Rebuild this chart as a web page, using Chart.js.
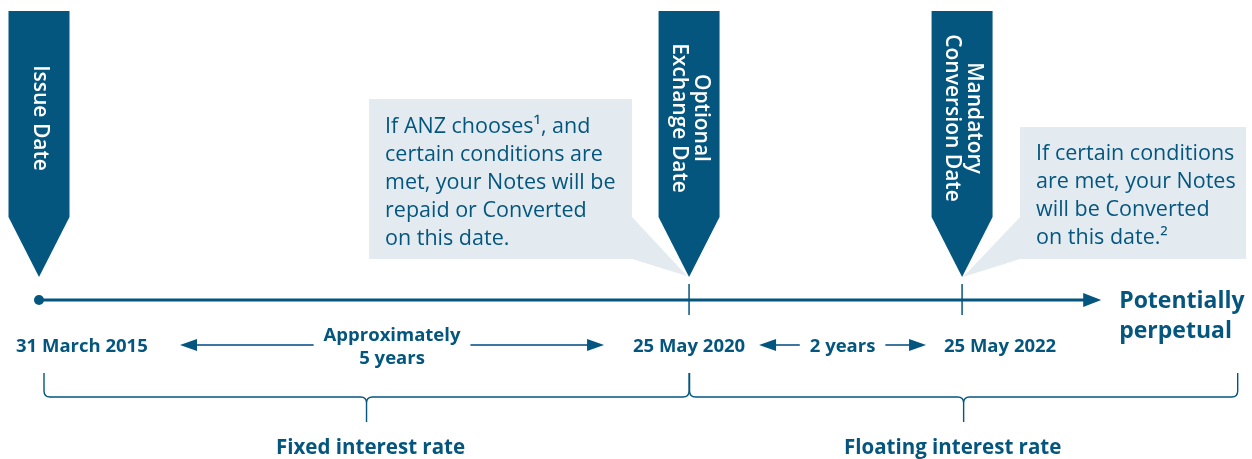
<!DOCTYPE html>
<html>
<head>
<meta charset="utf-8">
<script src="https://cdn.jsdelivr.net/npm/chart.js@4"></script>
<style>
  html, body { margin: 0; padding: 0; background: #fff; }
  #wrap { width: 1252px; height: 459px; }
</style>
</head>
<body>
<div id="wrap"><canvas id="timeline" width="1252" height="459"></canvas></div>
<script>
// timeline data (positions in diagram units, the drawing is not to scale)
const markerPos = [0, 5, 7.1];
const markerLabels = [['Issue Date'], ['Optional', 'Exchange Date'], ['Mandatory', 'Conversion Date']];
const markerDates = ['31 March 2015', '25 May 2020', '25 May 2022'];
const periodLabels = [['Approximately', '5 years'], ['2 years']];
const rateLabels = ['Fixed interest rate', 'Floating interest rate'];
const endLabel = ['Potentially', 'perpetual'];
const timelineEnd = 8.17;
const bracketEnd = 9.22;
const calloutOptional = ['If ANZ chooses\u00b9, and', 'certain conditions are', 'met, your Notes will be', 'repaid or Converted', 'on this date.'];
const calloutMandatory = ['If certain conditions', 'are met, your Notes', 'will be Converted', 'on this date.\u00b2'];

const DARK = '#04567f';
const LIGHT_LINE = '#3b77a0';
const BOX = '#e4ebf0';
const FONT = '"Open Sans", "DejaVu Sans", sans-serif';

function arrowHead(ctx, tipX, y, dir, len, half) {
    ctx.beginPath();
    ctx.moveTo(tipX, y);
    ctx.lineTo(tipX - dir * len, y - half);
    ctx.lineTo(tipX - dir * len, y + half);
    ctx.closePath();
    ctx.fill();
}

const backgroundPlugin = {
    id: 'timelineBack',
    beforeDatasetsDraw(chart) {
        const ctx = chart.ctx;
        const xs = chart.scales.x;
        const base = chart.scales.y.getPixelForValue(0);
        const px = markerPos.map(v => xs.getPixelForValue(v));

        // callout boxes
        ctx.save();
        ctx.fillStyle = BOX;
        let r = px[1] - 57;
        ctx.beginPath();
        ctx.moveTo(r - 263, base - 201);
        ctx.lineTo(r, base - 201);
        ctx.lineTo(r, base - 83);
        ctx.lineTo(px[1] - 2, base - 24);
        ctx.lineTo(r, base - 41);
        ctx.lineTo(r - 263, base - 41);
        ctx.closePath();
        ctx.fill();

        let l = px[2] + 58;
        ctx.beginPath();
        ctx.moveTo(l, base - 173);
        ctx.lineTo(l + 226, base - 173);
        ctx.lineTo(l + 226, base - 41);
        ctx.lineTo(l, base - 41);
        ctx.lineTo(px[2] + 1, base - 23);
        ctx.lineTo(l, base - 83);
        ctx.closePath();
        ctx.fill();

        ctx.fillStyle = DARK;
        ctx.font = '400 21.5px ' + FONT;
        ctx.textAlign = 'left';
        ctx.textBaseline = 'middle';
        calloutOptional.forEach((t, i) => ctx.fillText(t, r - 247, base - 173 + i * 28));
        calloutMandatory.forEach((t, i) => ctx.fillText(t, l + 16, base - 146 + i * 28));

        // banners
        px.forEach((cx, i) => {
            ctx.fillStyle = DARK;
            ctx.beginPath();
            ctx.moveTo(cx - 30.5, base - 289);
            ctx.lineTo(cx + 30.5, base - 289);
            ctx.lineTo(cx + 30.5, base - 83);
            ctx.lineTo(cx, base - 23);
            ctx.lineTo(cx - 30.5, base - 83);
            ctx.closePath();
            ctx.fill();

            const lines = markerLabels[i];
            ctx.fillStyle = '#ffffff';
            ctx.font = '600 21px ' + FONT;
            ctx.textAlign = 'center';
            ctx.textBaseline = 'middle';
            lines.forEach((t, k) => {
                const off = ((lines.length - 1) / 2 - k) * 22;
                ctx.save();
                ctx.translate(cx + off + 1, base - 182);
                ctx.rotate(Math.PI / 2);
                ctx.fillText(t, 0, 0);
                ctx.restore();
            });
        });
        ctx.restore();
    },
    afterDatasetsDraw(chart) {
        const ctx = chart.ctx;
        const xs = chart.scales.x;
        const base = chart.scales.y.getPixelForValue(0);
        const px = markerPos.map(v => xs.getPixelForValue(v));
        const endX = xs.getPixelForValue(timelineEnd);
        const brX = xs.getPixelForValue(bracketEnd);

        ctx.save();
        // arrow on the timeline
        ctx.fillStyle = DARK;
        arrowHead(ctx, endX, base, 1, 18, 7);

        // tick marks on later dates
        ctx.strokeStyle = DARK;
        ctx.lineWidth = 1.5;
        [px[1], px[2]].forEach(x => {
            ctx.beginPath();
            ctx.moveTo(x, base - 16);
            ctx.lineTo(x, base + 15);
            ctx.stroke();
        });

        // dates
        ctx.font = '700 18.5px ' + FONT;
        ctx.textBaseline = 'middle';
        ctx.textAlign = 'left';
        ctx.fillText(markerDates[0], px[0] - 23, base + 47);
        ctx.textAlign = 'center';
        ctx.fillText(markerDates[1], px[1], base + 47);
        ctx.fillText(markerDates[2], px[2] + 38, base + 47);

        // period arrows
        const spans = [[px[0] + 141, px[1] - 85, [base + 36, base + 59]], [px[1] + 70, px[2] - 36, [base + 47]]];
        spans.forEach((s, i) => {
            const [a, b, ys] = s;
            const mid = (a + b) / 2;
            let w = 0;
            periodLabels[i].forEach((t, k) => {
                ctx.fillText(t, mid, ys[k]);
                w = Math.max(w, ctx.measureText(t).width);
            });
            const y = base + 45;
            ctx.strokeStyle = LIGHT_LINE;
            ctx.lineWidth = 2;
            ctx.beginPath();
            ctx.moveTo(a + 10, y);
            ctx.lineTo(mid - w / 2 - 10, y);
            ctx.moveTo(mid + w / 2 + 10, y);
            ctx.lineTo(b - 10, y);
            ctx.stroke();
            arrowHead(ctx, a, y, -1, 17, 6);
            arrowHead(ctx, b, y, 1, 17, 6);
        });

        // end label
        ctx.font = '700 23px ' + FONT;
        ctx.textAlign = 'left';
        ctx.fillText(endLabel[0], endX + 18, base + 1);
        ctx.fillText(endLabel[1], endX + 18, base + 31);

        // braces
        ctx.strokeStyle = DARK;
        ctx.lineWidth = 1.4;
        const top = base + 73, bar = base + 97, stem = base + 122, rr = 6;
        const drawBrace = (x0, x1) => {
            const m = (x0 + x1) / 2;
            ctx.beginPath();
            ctx.moveTo(x0, top);
            ctx.lineTo(x0, bar - rr);
            ctx.quadraticCurveTo(x0, bar, x0 + rr, bar);
            ctx.lineTo(m - rr, bar);
            ctx.quadraticCurveTo(m, bar, m, bar + rr);
            ctx.lineTo(m, stem);
            ctx.moveTo(m, bar + rr);
            ctx.quadraticCurveTo(m, bar, m + rr, bar);
            ctx.lineTo(x1 - rr, bar);
            ctx.quadraticCurveTo(x1, bar, x1, bar - rr);
            ctx.lineTo(x1, top);
            ctx.stroke();
            return m;
        };
        const m1 = drawBrace(px[0] + 5, px[1]);
        const m2 = drawBrace(px[1] + 0.5, brX);

        ctx.font = '700 20.5px ' + FONT;
        ctx.textAlign = 'center';
        ctx.fillText(rateLabels[0], m1 + 4, base + 148);
        ctx.fillText(rateLabels[1], m2 - 11, base + 148);
        ctx.restore();
    }
};

new Chart(document.getElementById('timeline'), {
    type: 'line',
    data: {
        datasets: [{
            data: [{ x: markerPos[0], y: 0 }, { x: timelineEnd - 0.12, y: 0 }],
            borderColor: DARK,
            backgroundColor: DARK,
            borderWidth: 3,
            pointRadius: c => (c.dataIndex === 0 ? 5 : 0),
            pointBorderWidth: 0
        }]
    },
    options: {
        responsive: false,
        animation: false,
        devicePixelRatio: 1,
        events: [],
        layout: { padding: 0, autoPadding: false },
        scales: {
            x: { type: 'linear', min: -0.3, max: 9.33, display: false },
            y: { type: 'linear', min: -159, max: 300, display: false }
        },
        plugins: { legend: { display: false }, tooltip: { enabled: false } }
    },
    plugins: [backgroundPlugin]
});
</script>
</body>
</html>
